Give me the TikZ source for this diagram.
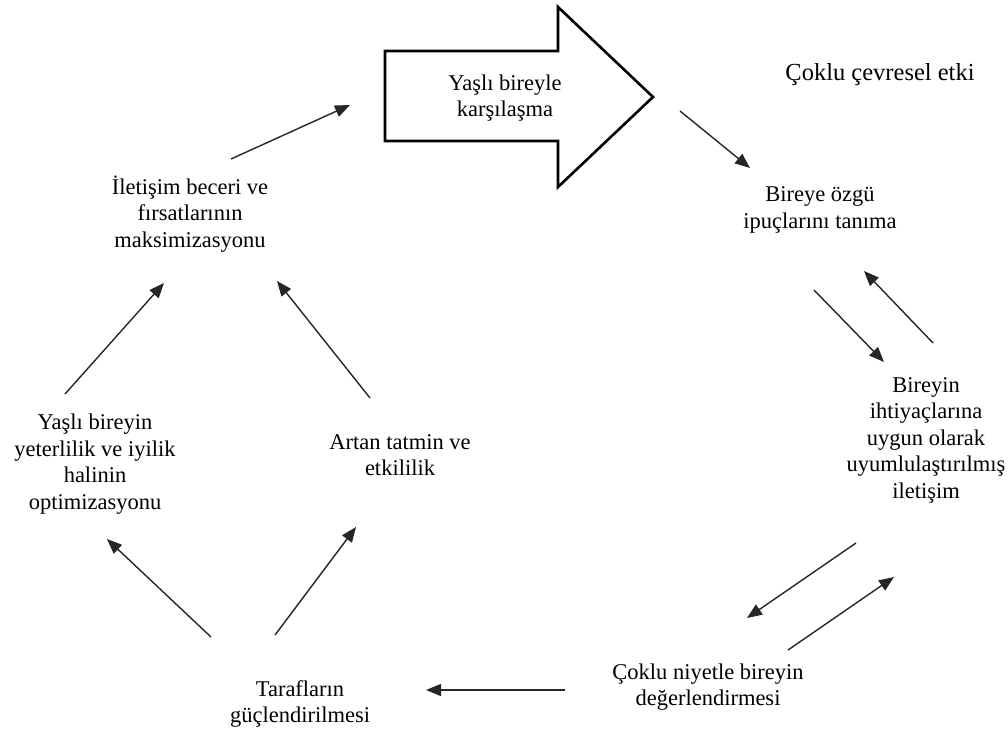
\documentclass[tikz,border=0pt]{standalone}
\usepackage{fontspec}
\setmainfont{Liberation Serif}
\usetikzlibrary{arrows.meta}
\begin{document}
\begin{tikzpicture}[x=1pt,y=-1pt,
  lbl/.style={align=center,inner sep=0pt,font=\fontsize{22.5}{26.5}\selectfont},
  big/.style={align=center,inner sep=0pt,font=\fontsize{24.5}{28}\selectfont},
  conn/.style={line width=1.4pt,draw=black!85,-{Triangle[length=15pt,width=12pt]}},
  blockarrow/.style={line width=2.6pt,draw=black,fill=white,line join=miter}]
\useasboundingbox (0,0) rectangle (1008,733);
% block arrow
\draw[blockarrow] (385,51) -- (558,51) -- (558,7) -- (653,97) -- (558,187) -- (558,141) -- (385,141) -- cycle;
\node[lbl] (meet) at (505,98) {Yaşlı bireyle\\karşılaşma};
\node[big] (env) at (880,75) {Çoklu çevresel etki};
\node[lbl] (cues) at (820,210) {Bireye özgü\\ipuçlarını tanıma};
\node[lbl] (adapt) at (926,440) {Bireyin\\ihtiyaçlarına\\uygun olarak\\uyumlulaştırılmış\\iletişim};
\node[lbl] (assess) at (708,687) {Çoklu niyetle bireyin\\değerlendirmesi};
\node[lbl] (empower) at (300,704) {Tarafların\\güçlendirilmesi};
\node[lbl] (optim) at (95,464) {Yaşlı bireyin\\yeterlilik ve iyilik\\halinin\\optimizasyonu};
\node[lbl] (satis) at (400,455) {Artan tatmin ve\\etkililik};
\node[lbl] (maxim) at (190,214) {İletişim beceri ve\\fırsatlarının\\maksimizasyonu};
% connector end points
\coordinate (a1s) at (231,159); \coordinate (a1e) at (350,105);
\coordinate (a2s) at (680,111); \coordinate (a2e) at (750,168);
\coordinate (a3s) at (814,290); \coordinate (a3e) at (884,362);
\coordinate (a4s) at (933,343); \coordinate (a4e) at (864,271);
\coordinate (a5s) at (856,543); \coordinate (a5e) at (747,618);
\coordinate (a6s) at (788,650); \coordinate (a6e) at (894,577);
\coordinate (a7s) at (565,690); \coordinate (a7e) at (426,690);
\coordinate (a8s) at (211,637); \coordinate (a8e) at (107,539);
\coordinate (a9s) at (275,635); \coordinate (a9e) at (356,527);
\coordinate (a10s) at (65,394); \coordinate (a10e) at (164,283);
\coordinate (a11s) at (370,398); \coordinate (a11e) at (277,281);
\foreach \i in {1,...,11} \draw[conn] (a\i s) -- (a\i e);
\end{tikzpicture}
\end{document}
